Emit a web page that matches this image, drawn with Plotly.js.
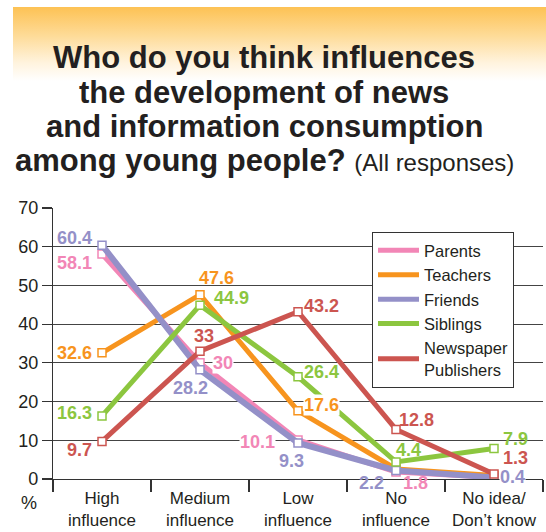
<!DOCTYPE html>
<html>
<head>
<meta charset="utf-8">
<script src="https://cdn.plot.ly/plotly-3.0.1.min.js"></script>
<style>
  html, body { margin:0; padding:0; background:#ffffff; }
  #wrap { position:relative; width:546px; height:532px; overflow:hidden; }
  #grad { position:absolute; left:13px; top:7px; width:533px; height:74px;
          background:linear-gradient(to bottom, #FDC254 0%, #FEDC9A 40%, #FFF3DD 75%, #FFFFFF 100%); }
  #chart { position:absolute; left:0; top:0; width:546px; height:532px; }
</style>
</head>
<body>
<div id="wrap"><div id="grad"></div><div id="chart"></div></div>
<script>
// ---- data ----
const categories = ['High<br>influence', 'Medium<br>influence', 'Low<br>influence', 'No<br>influence', 'No idea/<br>Don’t know'];
const seriesNames = ['Parents', 'Teachers', 'Friends', 'Siblings', 'Newspaper<br>Publishers'];
const parents   = [58.1, 30, 10.1, 1.8, 0.4];
const teachers  = [32.6, 47.6, 17.6, 2.6, 0.9];
const friends   = [60.4, 28.2, 9.3, 2.2, 0.4];
const siblings  = [16.3, 44.9, 26.4, 4.4, 7.9];
const newspaper = [9.7, 33, 43.2, 12.8, 1.3];
const yTicks = [0, 10, 20, 30, 40, 50, 60, 70];

// ---- styling ----
const FONT = 'Liberation Sans, Arial, Helvetica, sans-serif';
const colors = ['#F286B6', '#F7941E', '#9490C8', '#8CC63F', '#CC5550'];
const widths = [5, 5, 6, 5, 5];
const allValues = [parents, teachers, friends, siblings, newspaper];

// label placement per series per point: [xanchor, xshift, yshift, whiteBg] or null
const labelPos = [
  [['right', -9, -9, 0], ['left', 12, 0, 1], ['right', -22, -2, 1], ['center', 19, -11, 0], null],
  [['right', -9, 0, 0], ['center', 16, 17, 0], ['left', 5, 6, 1], null, null],
  [['right', -9, 7, 0], ['center', -10, -18, 0], ['center', -7, -18, 0], ['right', -11, -13, 0], ['left', 5, 0, 1]],
  [['right', -9, 3, 0], ['left', 13, 7, 0], ['left', 5, 5, 0], ['left', -1, 12, 0], ['left', 8, 9, 0]],
  [['right', -9, -9, 0], ['center', 4, 15, 0], ['left', 5, 6, 0], ['left', 2, 9, 0], ['left', 8, 16, 0]]
];

const traces = [];
allValues.forEach((vals, i) => {
  traces.push({
    type: 'scatter', mode: 'lines+markers', x: categories, y: vals,
    name: seriesNames[i], showlegend: false, hoverinfo: 'skip',
    line: { color: colors[i], width: widths[i] },
    marker: { symbol: 'square', size: 8, color: '#ffffff', line: { color: colors[i], width: 1.5 } }
  });
});
// legend-only entries (line swatch only)
allValues.forEach((vals, i) => {
  traces.push({
    type: 'scatter', mode: 'lines', x: [categories[0]], y: [null],
    name: seriesNames[i], showlegend: true,
    line: { color: colors[i], width: 5 }
  });
});

const annotations = [];
allValues.forEach((vals, i) => {
  vals.forEach((v, j) => {
    const p = labelPos[i][j];
    if (!p) return;
    annotations.push({
      x: categories[j], y: v, xref: 'x', yref: 'y', text: String(v),
      showarrow: false, xanchor: p[0], yanchor: 'middle', xshift: p[1], yshift: p[2],
      bgcolor: p[3] ? '#ffffff' : 'rgba(0,0,0,0)', borderpad: 0,
      font: { family: FONT, size: 18, color: colors[i], weight: 'bold' }
    });
  });
});

// title lines
const titleLines = [
  '<b>Who do you think influences</b>',
  '<b>the development of news</b>',
  '<b>and information consumption</b>',
  '<b>among young people?</b> <span style="font-size:24px">(All responses)</span>'
];
const titleY = [57, 92, 126, 160];
titleLines.forEach((t, k) => {
  annotations.push({
    xref: 'paper', yref: 'paper', x: (264 - 53) / 490, y: (479 - titleY[k]) / 271,
    xanchor: 'center', yanchor: 'middle', showarrow: false, text: t,
    font: { family: FONT, size: 31, color: '#231F20' }
  });
});
annotations.push({
  xref: 'paper', yref: 'paper', x: (29 - 53) / 490, y: (479 - 503) / 271,
  xanchor: 'center', yanchor: 'middle', showarrow: false, text: '%',
  font: { family: FONT, size: 18, color: '#231F20' }
});

const layout = {
  width: 546, height: 532,
  margin: { l: 53, r: 3, t: 208, b: 53 },
  paper_bgcolor: 'rgba(0,0,0,0)', plot_bgcolor: 'rgba(0,0,0,0)',
  font: { family: FONT, size: 18, color: '#231F20' },
  showlegend: true,
  legend: {
    x: (372 - 53) / 490, y: (479 - 232) / 271, xanchor: 'left', yanchor: 'top',
    bgcolor: '#ffffff', bordercolor: '#333333', borderwidth: 1,
    font: { family: FONT, size: 16.5, color: '#231F20' },
    tracegroupgap: 0, itemwidth: 41
  },
  xaxis: {
    type: 'category', range: [-0.5, 4.5], fixedrange: true,
    showgrid: false, showline: true, linecolor: '#333333', linewidth: 1.2,
    ticks: 'outside', tickson: 'boundaries', ticklen: 12, tickcolor: '#333333', tickwidth: 1.2,
    tickangle: 0, automargin: false, ticklabelstandoff: 3,
    tickfont: { family: FONT, size: 17, color: '#231F20' }
  },
  yaxis: {
    range: [0, 70], tickvals: yTicks, fixedrange: true,
    showgrid: true, gridcolor: '#444444', gridwidth: 1.2,
    showline: true, linecolor: '#333333', linewidth: 1.2,
    ticks: 'outside', ticklen: 10, tickcolor: '#333333', tickwidth: 1.2,
    zeroline: false,
    tickfont: { family: FONT, size: 18, color: '#231F20' }
  },
  annotations: annotations
};

Plotly.newPlot('chart', traces, layout, { displayModeBar: false, staticPlot: true });
</script>
</body>
</html>
